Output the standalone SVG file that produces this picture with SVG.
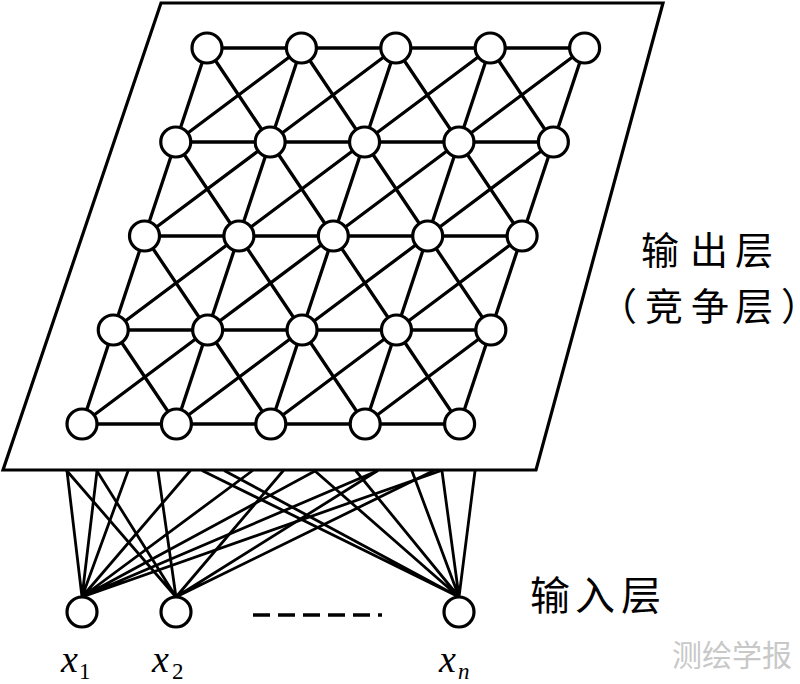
<svg xmlns="http://www.w3.org/2000/svg" width="800" height="684" viewBox="0 0 800 684">
<style>
.plane{fill:#fff;stroke:#000;stroke-width:3.2}
.e{fill:none;stroke:#000;stroke-width:3.3;stroke-linecap:round}
.w{fill:none;stroke:#000;stroke-width:2.8;stroke-linecap:round}
.n{fill:#fff;stroke:#000;stroke-width:3.2}
.cn{font-family:"Noto Sans CJK SC","Noto Sans CJK JP",sans-serif;font-size:40px;fill:#000}
.cn2{font-family:"Noto Sans CJK SC","Noto Sans CJK JP",sans-serif;font-size:38px;fill:#000}
.var{font-family:"Liberation Serif",serif;font-style:italic;font-size:38px;fill:#000}
.sub{font-family:"Liberation Serif",serif;font-size:23px;fill:#000}
.wm{font-family:"Noto Sans CJK SC",sans-serif;font-size:30px;fill:#c8c8c8}
</style>
<polygon class="plane" points="161,3 663,3 536,470 3,470"/>
<g id="connectors">
<path class="e" d="M207,48H584.6 M175.75,142H553.35 M144.5,236H522.1 M113.25,330H490.85 M82,424H459.6"/>
<path class="e" d="M207,48L175.75,142 M301.4,48L270.15,142 M395.8,48L364.55,142 M490.2,48L458.95,142 M584.6,48L553.35,142 M207,48L270.15,142 M301.4,48L364.55,142 M395.8,48L458.95,142 M490.2,48L553.35,142 M301.4,48L175.75,142 M395.8,48L270.15,142 M490.2,48L364.55,142 M584.6,48L458.95,142"/>
<path class="e" d="M175.75,142L144.5,236 M270.15,142L238.9,236 M364.55,142L333.3,236 M458.95,142L427.7,236 M553.35,142L522.1,236 M175.75,142L238.9,236 M270.15,142L333.3,236 M364.55,142L427.7,236 M458.95,142L522.1,236 M270.15,142L144.5,236 M364.55,142L238.9,236 M458.95,142L333.3,236 M553.35,142L427.7,236"/>
<path class="e" d="M144.5,236L113.25,330 M238.9,236L207.65,330 M333.3,236L302.05,330 M427.7,236L396.45,330 M522.1,236L490.85,330 M144.5,236L207.65,330 M238.9,236L302.05,330 M333.3,236L396.45,330 M427.7,236L490.85,330 M238.9,236L113.25,330 M333.3,236L207.65,330 M427.7,236L302.05,330 M522.1,236L396.45,330"/>
<path class="e" d="M113.25,330L82,424 M207.65,330L176.4,424 M302.05,330L270.8,424 M396.45,330L365.2,424 M490.85,330L459.6,424 M113.25,330L176.4,424 M207.65,330L270.8,424 M302.05,330L365.2,424 M396.45,330L459.6,424 M207.65,330L82,424 M302.05,330L176.4,424 M396.45,330L270.8,424 M490.85,330L365.2,424"/>
<path class="w" d="M82,597L67,471 M82,597L97,471 M82,597L128,471 M82,597L190,471 M82,597L252,471 M82,597L315,471 M82,597L377,471 M82,597L440,471"/>
<path class="w" d="M176,597L67,471 M176,597L97,471 M176,597L158,471 M176,597L283,471 M176,597L377,471 M176,597L433,471"/>
<path class="w" d="M459,597L203,471 M459,597L225,471 M459,597L315,471 M459,597L356,471 M459,597L412,471 M459,597L442,471 M459,597L475,471"/>
<line x1="253" y1="615" x2="382" y2="615" stroke="#000" stroke-width="3.5" stroke-dasharray="17 8"/>
</g>
<g id="out-r0c0"><circle class="n" cx="207" cy="48" r="15"/></g>
<g id="out-r0c1"><circle class="n" cx="301.4" cy="48" r="15"/></g>
<g id="out-r0c2"><circle class="n" cx="395.8" cy="48" r="15"/></g>
<g id="out-r0c3"><circle class="n" cx="490.2" cy="48" r="15"/></g>
<g id="out-r0c4"><circle class="n" cx="584.6" cy="48" r="15"/></g>
<g id="out-r1c0"><circle class="n" cx="175.75" cy="142" r="15"/></g>
<g id="out-r1c1"><circle class="n" cx="270.15" cy="142" r="15"/></g>
<g id="out-r1c2"><circle class="n" cx="364.55" cy="142" r="15"/></g>
<g id="out-r1c3"><circle class="n" cx="458.95" cy="142" r="15"/></g>
<g id="out-r1c4"><circle class="n" cx="553.35" cy="142" r="15"/></g>
<g id="out-r2c0"><circle class="n" cx="144.5" cy="236" r="15"/></g>
<g id="out-r2c1"><circle class="n" cx="238.9" cy="236" r="15"/></g>
<g id="out-r2c2"><circle class="n" cx="333.3" cy="236" r="15"/></g>
<g id="out-r2c3"><circle class="n" cx="427.7" cy="236" r="15"/></g>
<g id="out-r2c4"><circle class="n" cx="522.1" cy="236" r="15"/></g>
<g id="out-r3c0"><circle class="n" cx="113.25" cy="330" r="15"/></g>
<g id="out-r3c1"><circle class="n" cx="207.65" cy="330" r="15"/></g>
<g id="out-r3c2"><circle class="n" cx="302.05" cy="330" r="15"/></g>
<g id="out-r3c3"><circle class="n" cx="396.45" cy="330" r="15"/></g>
<g id="out-r3c4"><circle class="n" cx="490.85" cy="330" r="15"/></g>
<g id="out-r4c0"><circle class="n" cx="82" cy="424" r="15"/></g>
<g id="out-r4c1"><circle class="n" cx="176.4" cy="424" r="15"/></g>
<g id="out-r4c2"><circle class="n" cx="270.8" cy="424" r="15"/></g>
<g id="out-r4c3"><circle class="n" cx="365.2" cy="424" r="15"/></g>
<g id="out-r4c4"><circle class="n" cx="459.6" cy="424" r="15"/></g>
<g id="in-x1"><circle class="n" cx="82" cy="612" r="15"/><text class="var" x="61" y="672">x</text><text class="sub" x="79" y="679">1</text></g>
<g id="in-x2"><circle class="n" cx="176" cy="612" r="15"/><text class="var" x="152" y="672">x</text><text class="sub" x="172" y="679">2</text></g>
<g id="in-xn"><circle class="n" cx="459" cy="612" r="15"/><text class="var" x="439" y="672">x</text><text class="sub" x="458" y="679" font-style="italic">n</text></g>
<g id="label-output"><text class="cn2"><tspan x="641 690 735" y="264">输出层</tspan><tspan x="599" y="320">（</tspan><tspan x="645 691 735" y="320">竞争层</tspan><tspan x="781" y="320" style="font-feature-settings:'halt'">）</tspan></text></g>
<g id="label-input"><text class="cn" x="530 575 621" y="610">输入层</text></g>
<text class="wm" x="672" y="666">测绘学报</text>
</svg>
